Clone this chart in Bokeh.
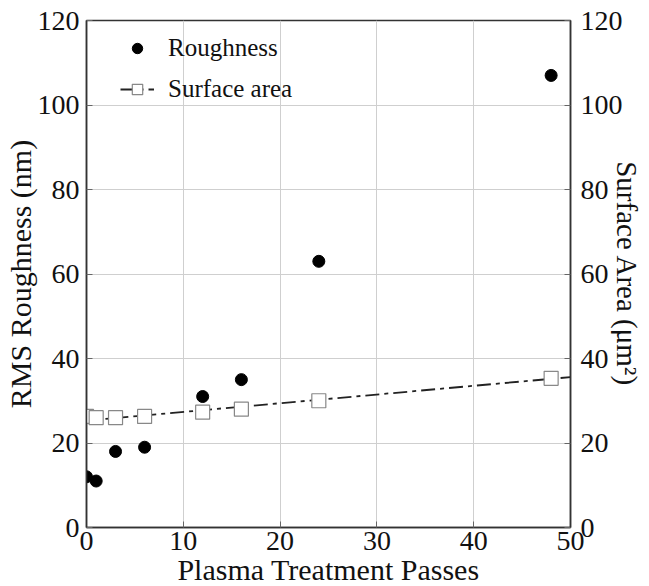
from bokeh.plotting import figure
from bokeh.models import Range1d, LinearAxis, Legend, LegendItem, FixedTicker
from bokeh.embed import file_html
from bokeh.resources import INLINE

passes = [0, 1, 3, 6, 12, 16, 24, 48]
roughness = [12, 11, 18, 19, 31, 35, 63, 107]
surface_area = [26.3, 26.0, 26.0, 26.3, 27.3, 28.0, 30.0, 35.3]
fit_x = [0, 50]
fit_y = [25.3, 35.6]
x_ticks = [0, 10, 20, 30, 40, 50]
y_ticks = [0, 20, 40, 60, 80, 100, 120]

FONT = "Liberation Serif"
TICK_SIZE = "28px"
LABEL_SIZE = "30px"

p = figure(frame_width=484, frame_height=507, output_backend="svg", toolbar_location=None,
           x_range=Range1d(0, 50), y_range=Range1d(0, 120),
           min_border_left=80, min_border_right=60, min_border_top=20, min_border_bottom=50)
p.extra_y_ranges = {"sa": Range1d(0, 120)}

p.background_fill_color = "white"
p.border_fill_color = "white"
p.outline_line_color = "#333333"
p.outline_line_width = 1.5


def style_axis(ax):
    ax.major_label_text_font = FONT
    ax.major_label_text_font_size = TICK_SIZE
    ax.major_label_text_color = "#111111"
    ax.axis_label_text_font = FONT
    ax.axis_label_text_font_size = LABEL_SIZE
    ax.axis_label_text_font_style = "normal"
    ax.axis_label_text_color = "#111111"
    ax.axis_line_color = "#333333"
    ax.axis_line_width = 1.5
    ax.major_tick_in = 6
    ax.major_tick_out = 0
    ax.minor_tick_line_color = None
    ax.major_tick_line_color = "#666666"


style_axis(p.xaxis[0])
style_axis(p.yaxis[0])
p.xaxis[0].ticker = FixedTicker(ticks=x_ticks)
p.yaxis[0].ticker = FixedTicker(ticks=y_ticks)
p.xaxis.axis_label = "Plasma Treatment Passes"
p.yaxis.axis_label = "RMS Roughness (nm)"
p.xaxis.axis_label_standoff = 0
p.yaxis.axis_label_standoff = -2
p.xaxis.major_label_standoff = 4
p.yaxis.major_label_standoff = 7

ra = LinearAxis(y_range_name="sa", axis_label="Surface Area (μm²)",
                ticker=FixedTicker(ticks=y_ticks))
style_axis(ra)
ra.axis_label_text_font_size = "29px"
ra.major_label_standoff = 10
ra.axis_label_standoff = -15
p.add_layout(ra, "right")

p.xgrid.ticker = FixedTicker(ticks=x_ticks)
p.ygrid.ticker = FixedTicker(ticks=y_ticks)
p.grid.grid_line_color = "#cfcfcf"
p.grid.grid_line_width = 1

fit = p.line(fit_x, fit_y, y_range_name="sa", line_color="#222222",
             line_width=1.8, line_dash="14 5 4 5")
sq = p.scatter(passes, surface_area, y_range_name="sa", marker="square", size=14,
               fill_color="white", line_color="#888888", line_width=1.2)
rc = p.scatter(passes, roughness, marker="circle", size=12,
               fill_color="black", line_color="black")

legend = Legend(items=[LegendItem(label="Roughness", renderers=[rc]),
                       LegendItem(label="Surface area", renderers=[fit, sq])],
                location=(34, 424))
legend.background_fill_alpha = 0
legend.border_line_color = None
legend.label_text_font = FONT
legend.label_text_font_size = "25px"
legend.label_text_color = "#111111"
legend.glyph_width = 34
legend.glyph_height = 26
legend.label_height = 26
legend.spacing = 13
legend.margin = 0
legend.padding = 0
legend.label_standoff = 14
p.add_layout(legend)

open("out.html", "w").write(file_html(p, INLINE))
